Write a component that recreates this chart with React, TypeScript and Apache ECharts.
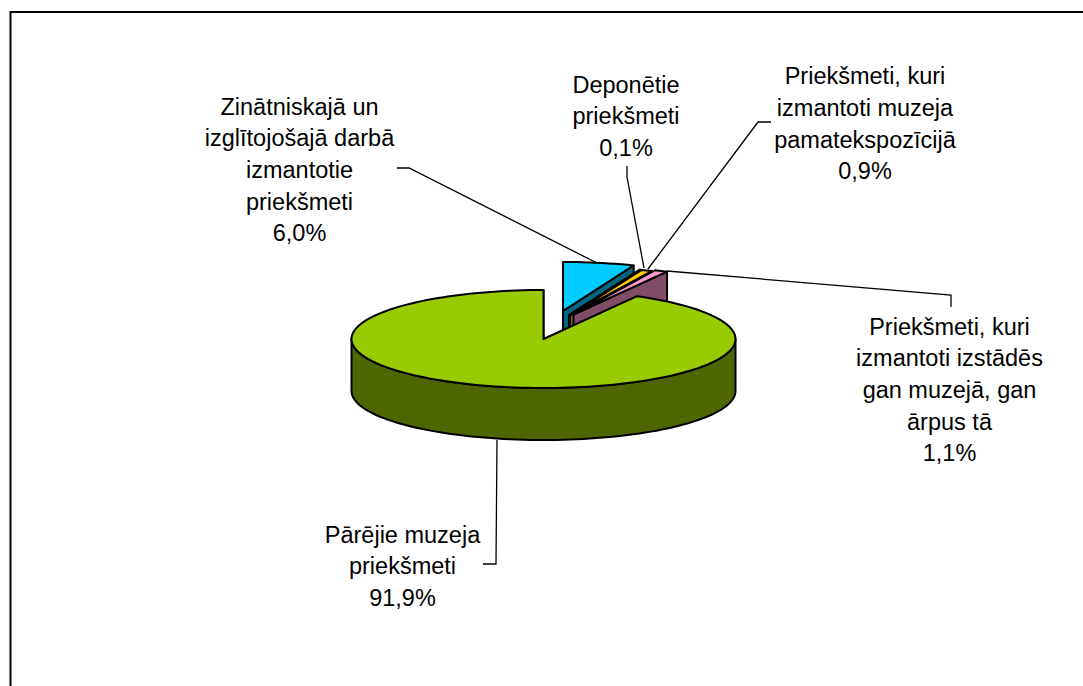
import React, { useEffect, useRef } from "react";
import * as echarts from "echarts";

const categories = [
  "Zinātniskajā un\nizglītojošajā darbā\nizmantotie\npriekšmeti",
  "Deponētie\npriekšmeti",
  "Priekšmeti, kuri\nizmantoti muzeja\npamatekspozīcijā",
  "Priekšmeti, kuri\nizmantoti izstādēs\ngan muzejā, gan\nārpus tā",
  "Pārējie muzeja\npriekšmeti",
];
const shares = [6.0, 0.1, 0.9, 1.1, 91.9];

const topColors = ["#00CCFF", "#FFFF99", "#FFCC00", "#FF99CC", "#99CC00"];
const wallColors = ["#006680", "#808050", "#806600", "#804D66", "#4D6600"];
const sliceOffsets = [[19.5, -28], [25.5, -23.8], [26.5, -23.6], [30, -24.5], [0, 0]];
const labelAnchors = [[299.5, 91], [626, 69], [865, 60.5], [949.5, 311], [402.5, 519]];
const leaderPaths = [
  [[397, 168], [409, 168], [597, 263]],
  [[627, 166], [627, 177], [644, 268]],
  [[771, 122], [758, 122], [648, 269]],
  [[667, 271], [951, 295], [951, 307]],
  [[497, 440], [496, 564], [483, 564]],
];

const CX = 543.5;
const CY = 339;
const RX = 192;
const RY = 49;
const DEPTH = 52;
const OUTLINE = 2;
const FONT = '23.5px "Liberation Sans", Arial, sans-serif';

const total = shares.reduce((a, b) => a + b, 0);
const startAngles = shares.map((_, i) =>
  (shares.slice(0, i).reduce((a, b) => a + b, 0) / total) * 360
);

const rimPoint = (deg: number, ox: number, oy: number, drop = 0) => {
  const r = (deg * Math.PI) / 180;
  return [CX + ox + RX * Math.sin(r), CY + oy - RY * Math.cos(r) + drop];
};

const arc = (a: number, b: number, ox: number, oy: number, drop = 0) => {
  const out: number[][] = [];
  const steps = Math.max(2, Math.ceil(Math.abs(b - a) / 2));
  for (let i = 0; i <= steps; i++) out.push(rimPoint(a + ((b - a) * i) / steps, ox, oy, drop));
  return out;
};

const renderSlice = (params: any, api: any) => {
  const i = params.dataIndex;
  const share = api.value(0);
  const a = startAngles[i];
  const b = a + (share / total) * 360;
  const [ox, oy] = sliceOffsets[i];
  const apex = [CX + ox, CY + oy];
  const children: any[] = [];
  const edge = { stroke: "#000", lineWidth: OUTLINE, lineJoin: "round" };
  const end = rimPoint(b, ox, oy);
  if (b < 180 || b > 360) {
    children.push({
      type: "polygon",
      shape: {
        points: [apex, end, [end[0], end[1] + DEPTH], [apex[0], apex[1] + DEPTH]],
      },
      style: { fill: wallColors[i], ...edge },
    });
  }
  const wa = Math.max(a, 90);
  const wb = Math.min(b, 270);
  if (wb > wa) {
    children.push({
      type: "polygon",
      shape: {
        points: [...arc(wa, wb, ox, oy), ...arc(wb, wa, ox, oy, DEPTH)],
      },
      style: { fill: wallColors[i], ...edge },
    });
  }
  children.push({
    type: "polygon",
    shape: { points: [apex, ...arc(a, b, ox, oy)] },
    style: { fill: topColors[i], ...edge },
  });
  return { type: "group", children };
};

const pct = (v: number) => v.toFixed(1).replace(".", ",") + "%";

export default function App() {
  const ref = useRef<HTMLDivElement>(null);
  useEffect(() => {
    document.body.style.margin = "0";
    const chart = echarts.init(ref.current!, null, { renderer: "svg" });
    chart.setOption({
      animation: false,
      backgroundColor: "#ffffff",
      series: [
        {
          type: "custom",
          coordinateSystem: "none",
          renderItem: renderSlice,
          data: shares.map((v, i) => ({ name: categories[i], value: [v] })),
          silent: true,
        },
      ],
      graphic: [
        {
          type: "polyline",
          z: 20,
          shape: { points: [[10.5, 686], [10.5, 12], [1083, 12]] },
          style: { stroke: "#000", lineWidth: 2, fill: "none" },
        },
        ...leaderPaths.map((p) => ({
          type: "polyline",
          z: 20,
          shape: { points: p },
          style: { stroke: "#000", lineWidth: 1.3, fill: "none" },
        })),
        ...categories.map((c, i) => ({
          type: "text",
          z: 20,
          x: labelAnchors[i][0],
          y: labelAnchors[i][1],
          style: {
            text: c + "\n" + pct(shares[i]),
            font: FONT,
            fill: "#000",
            align: "center",
            verticalAlign: "top",
            lineHeight: 31.6,
          },
        })),
      ],
    });
    return () => chart.dispose();
  }, []);
  return <div ref={ref} style={{ width: 1083, height: 686 }} />;
}
